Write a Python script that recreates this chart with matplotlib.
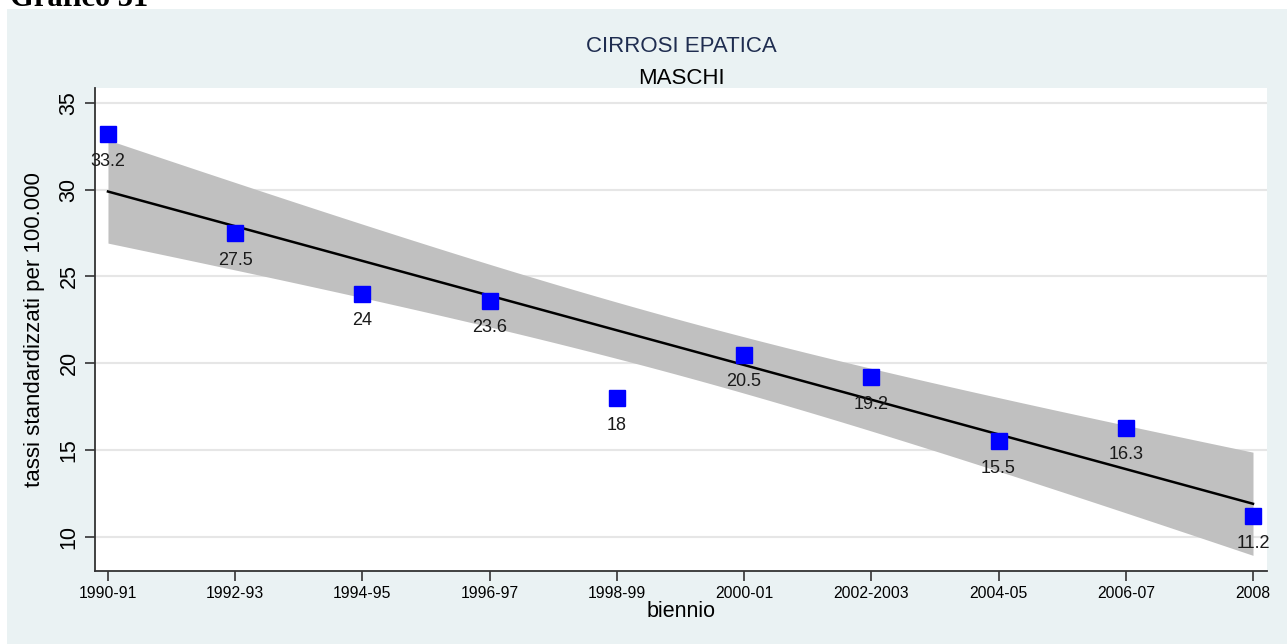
import numpy as np
import matplotlib
matplotlib.use("Agg")
import matplotlib.pyplot as plt
import matplotlib.patches as mpatches

plt.rcParams['font.family'] = ['Liberation Sans', 'DejaVu Sans']

# tassi standardizzati per biennio
bienni = ['1990-91', '1992-93', '1994-95', '1996-97', '1998-99',
          '2000-01', '2002-2003', '2004-05', '2006-07', '2008']
tassi = [33.2, 27.5, 24, 23.6, 18, 20.5, 19.2, 15.5, 16.3, 11.2]
yticks = [10, 15, 20, 25, 30, 35]
t_crit = 2.306  # t di Student, 8 gdl, 95%

x = np.arange(len(bienni), dtype=float)
y = np.array(tassi)

# retta di regressione con intervallo di confidenza (come lfitci)
b, a = np.polyfit(x, y, 1)
n = len(x)
resid = y - (a + b * x)
s = np.sqrt(np.sum(resid ** 2) / (n - 2))
xg = np.linspace(x.min(), x.max(), 200)
yg = a + b * xg
se = s * np.sqrt(1 / n + (xg - x.mean()) ** 2 / np.sum((x - x.mean()) ** 2))
lo, hi = yg - t_crit * se, yg + t_crit * se

fig = plt.figure(figsize=(12.87, 6.44), dpi=100)
fig.patch.set_facecolor('white')
fig.patches.append(mpatches.Rectangle((7 / 1287, 0), 1, 1 - 9 / 644,
                                      transform=fig.transFigure,
                                      facecolor='#EAF2F3', edgecolor='none',
                                      zorder=-5))
fig.text(10 / 1287, 1 - 6 / 644, 'Grafico 31', family='Liberation Serif',
         fontweight='bold', fontsize=22, va='baseline', ha='left')

ax = fig.add_axes([95 / 1287, 1 - 571 / 644, 1172 / 1287, 483 / 644])
ax.set_facecolor('white')

ax.fill_between(xg, lo, hi, color='#C0C0C0', lw=0, zorder=1)
ax.plot(xg, yg, color='black', lw=1.8, zorder=2)
ax.plot(x, y, 's', color='#0000FF', markersize=11.5, zorder=3)
for xi, yi in zip(x, tassi):
    ax.annotate(f'{yi:g}', (xi, yi), xytext=(0, -19.5),
                textcoords='offset points', ha='center', va='center',
                fontsize=13, color='#1a1a1a', zorder=4)

ax.set_xlim(-0.102, 9.11)
ax.set_ylim(8.04, 35.85)
ax.set_xticks(x)
ax.set_xticklabels(bienni, fontsize=11.3)
ax.set_yticks(yticks)
ax.set_yticklabels([str(v) for v in yticks], rotation=90, va='center',
                   fontsize=15.5)
ax.tick_params(axis='both', direction='out', length=7, width=1.2,
               color='#333333')
ax.tick_params(axis='x', pad=4)
ax.tick_params(axis='y', pad=4)
ax.yaxis.grid(True, color='#E6E6E6', lw=1.5)
ax.set_axisbelow(True)

for side in ['top', 'right']:
    ax.spines[side].set_visible(False)
for side in ['left', 'bottom']:
    ax.spines[side].set_color('#333333')
    ax.spines[side].set_linewidth(1.3)

ax.set_xlabel('biennio', fontsize=15.5, labelpad=0)
ax.set_ylabel('tassi standardizzati per 100.000', fontsize=16)
ax.yaxis.set_label_coords(-0.043, 0.5)

fig.text(681 / 1287, 1 - 46 / 644, 'CIRROSI EPATICA', ha='center',
         va='center', fontsize=16, color='#1F2D50')
fig.text(681 / 1287, 1 - 78 / 644, 'MASCHI', ha='center', va='center',
         fontsize=16, color='black')

fig.savefig('out.png', dpi=100)
